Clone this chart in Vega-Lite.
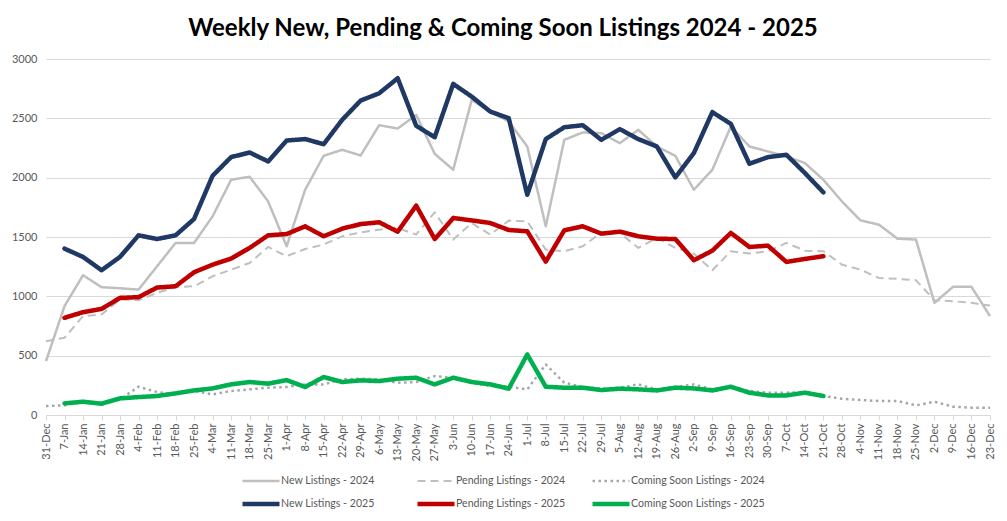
{
  "$schema": "https://vega.github.io/schema/vega-lite/v6.json",
  "width": 944,
  "height": 356,
  "autosize": {"type": "none"},
  "padding": {"left": 46, "top": 59, "right": 17, "bottom": 106},
  "background": "white",
  "title": {
    "text": "Weekly New, Pending & Coming Soon Listings 2024 - 2025",
    "fontSize": 24,
    "fontWeight": "bold",
    "font": "Lato",
    "color": "#000000",
    "anchor": "middle",
    "dx": -15,
    "offset": 12
  },
  "config": {"view": {"stroke": null}, "font": "Lato"},
  "data": {
    "values": [
      {"week": "31-Dec", "New Listings - 2024": 454, "Pending Listings - 2024": 622, "Coming Soon Listings - 2024": 76, "New Listings - 2025": null, "Pending Listings - 2025": null, "Coming Soon Listings - 2025": null},
      {"week": "7-Jan", "New Listings - 2024": 917, "Pending Listings - 2024": 651, "Coming Soon Listings - 2024": 81, "New Listings - 2025": 1402, "Pending Listings - 2025": 819, "Coming Soon Listings - 2025": 98},
      {"week": "14-Jan", "New Listings - 2024": 1178, "Pending Listings - 2024": 833, "Coming Soon Listings - 2024": 112, "New Listings - 2025": 1332, "Pending Listings - 2025": 866, "Coming Soon Listings - 2025": 112},
      {"week": "21-Jan", "New Listings - 2024": 1077, "Pending Listings - 2024": 847, "Coming Soon Listings - 2024": 95, "New Listings - 2025": 1220, "Pending Listings - 2025": 894, "Coming Soon Listings - 2025": 95},
      {"week": "28-Jan", "New Listings - 2024": 1068, "Pending Listings - 2024": 973, "Coming Soon Listings - 2024": 132, "New Listings - 2025": 1332, "Pending Listings - 2025": 987, "Coming Soon Listings - 2025": 140},
      {"week": "4-Feb", "New Listings - 2024": 1057, "Pending Listings - 2024": 967, "Coming Soon Listings - 2024": 238, "New Listings - 2025": 1514, "Pending Listings - 2025": 993, "Coming Soon Listings - 2025": 151},
      {"week": "11-Feb", "New Listings - 2024": 1253, "Pending Listings - 2024": 1029, "Coming Soon Listings - 2024": 193, "New Listings - 2025": 1483, "Pending Listings - 2025": 1074, "Coming Soon Listings - 2025": 160},
      {"week": "18-Feb", "New Listings - 2024": 1450, "Pending Listings - 2024": 1077, "Coming Soon Listings - 2024": 174, "New Listings - 2025": 1514, "Pending Listings - 2025": 1085, "Coming Soon Listings - 2025": 182},
      {"week": "25-Feb", "New Listings - 2024": 1450, "Pending Listings - 2024": 1085, "Coming Soon Listings - 2024": 202, "New Listings - 2025": 1652, "Pending Listings - 2025": 1203, "Coming Soon Listings - 2025": 207},
      {"week": "4-Mar", "New Listings - 2024": 1674, "Pending Listings - 2024": 1169, "Coming Soon Listings - 2024": 174, "New Listings - 2025": 2016, "Pending Listings - 2025": 1267, "Coming Soon Listings - 2025": 224},
      {"week": "11-Mar", "New Listings - 2024": 1982, "Pending Listings - 2024": 1225, "Coming Soon Listings - 2024": 202, "New Listings - 2025": 2173, "Pending Listings - 2025": 1318, "Coming Soon Listings - 2025": 258},
      {"week": "18-Mar", "New Listings - 2024": 2008, "Pending Listings - 2024": 1281, "Coming Soon Listings - 2024": 216, "New Listings - 2025": 2212, "Pending Listings - 2025": 1408, "Coming Soon Listings - 2025": 278},
      {"week": "25-Mar", "New Listings - 2024": 1800, "Pending Listings - 2024": 1416, "Coming Soon Listings - 2024": 230, "New Listings - 2025": 2137, "Pending Listings - 2025": 1514, "Coming Soon Listings - 2025": 264},
      {"week": "1-Apr", "New Listings - 2024": 1422, "Pending Listings - 2024": 1338, "Coming Soon Listings - 2024": 236, "New Listings - 2025": 2313, "Pending Listings - 2025": 1525, "Coming Soon Listings - 2025": 294},
      {"week": "8-Apr", "New Listings - 2024": 1898, "Pending Listings - 2024": 1399, "Coming Soon Listings - 2024": 258, "New Listings - 2025": 2325, "Pending Listings - 2025": 1590, "Coming Soon Listings - 2025": 236},
      {"week": "15-Apr", "New Listings - 2024": 2184, "Pending Listings - 2024": 1436, "Coming Soon Listings - 2024": 258, "New Listings - 2025": 2282, "Pending Listings - 2025": 1506, "Coming Soon Listings - 2025": 320},
      {"week": "22-Apr", "New Listings - 2024": 2235, "Pending Listings - 2024": 1506, "Coming Soon Listings - 2024": 300, "New Listings - 2025": 2487, "Pending Listings - 2025": 1570, "Coming Soon Listings - 2025": 278},
      {"week": "29-Apr", "New Listings - 2024": 2187, "Pending Listings - 2024": 1539, "Coming Soon Listings - 2024": 306, "New Listings - 2025": 2650, "Pending Listings - 2025": 1609, "Coming Soon Listings - 2025": 292},
      {"week": "6-May", "New Listings - 2024": 2442, "Pending Listings - 2024": 1562, "Coming Soon Listings - 2024": 300, "New Listings - 2025": 2711, "Pending Listings - 2025": 1624, "Coming Soon Listings - 2025": 286},
      {"week": "13-May", "New Listings - 2024": 2414, "Pending Listings - 2024": 1576, "Coming Soon Listings - 2024": 272, "New Listings - 2025": 2838, "Pending Listings - 2025": 1545, "Coming Soon Listings - 2025": 306},
      {"week": "20-May", "New Listings - 2024": 2529, "Pending Listings - 2024": 1520, "Coming Soon Listings - 2024": 278, "New Listings - 2025": 2437, "Pending Listings - 2025": 1764, "Coming Soon Listings - 2025": 314},
      {"week": "27-May", "New Listings - 2024": 2201, "Pending Listings - 2024": 1708, "Coming Soon Listings - 2024": 328, "New Listings - 2025": 2341, "Pending Listings - 2025": 1483, "Coming Soon Listings - 2025": 258},
      {"week": "3-Jun", "New Listings - 2024": 2067, "Pending Listings - 2024": 1478, "Coming Soon Listings - 2024": 314, "New Listings - 2025": 2790, "Pending Listings - 2025": 1660, "Coming Soon Listings - 2025": 314},
      {"week": "10-Jun", "New Listings - 2024": 2655, "Pending Listings - 2024": 1618, "Coming Soon Listings - 2024": 272, "New Listings - 2025": 2683, "Pending Listings - 2025": 1640, "Coming Soon Listings - 2025": 278},
      {"week": "17-Jun", "New Listings - 2024": 2557, "Pending Listings - 2024": 1520, "Coming Soon Listings - 2024": 244, "New Listings - 2025": 2557, "Pending Listings - 2025": 1618, "Coming Soon Listings - 2025": 258},
      {"week": "24-Jun", "New Listings - 2024": 2473, "Pending Listings - 2024": 1638, "Coming Soon Listings - 2024": 238, "New Listings - 2025": 2501, "Pending Listings - 2025": 1559, "Coming Soon Listings - 2025": 222},
      {"week": "1-Jul", "New Listings - 2024": 2263, "Pending Listings - 2024": 1632, "Coming Soon Listings - 2024": 216, "New Listings - 2025": 1856, "Pending Listings - 2025": 1548, "Coming Soon Listings - 2025": 510},
      {"week": "8-Jul", "New Listings - 2024": 1590, "Pending Listings - 2024": 1394, "Coming Soon Listings - 2024": 426, "New Listings - 2025": 2325, "Pending Listings - 2025": 1293, "Coming Soon Listings - 2025": 238},
      {"week": "15-Jul", "New Listings - 2024": 2319, "Pending Listings - 2024": 1380, "Coming Soon Listings - 2024": 272, "New Listings - 2025": 2425, "Pending Listings - 2025": 1556, "Coming Soon Listings - 2025": 230},
      {"week": "22-Jul", "New Listings - 2024": 2381, "Pending Listings - 2024": 1422, "Coming Soon Listings - 2024": 236, "New Listings - 2025": 2442, "Pending Listings - 2025": 1590, "Coming Soon Listings - 2025": 230},
      {"week": "29-Jul", "New Listings - 2024": 2375, "Pending Listings - 2024": 1539, "Coming Soon Listings - 2024": 222, "New Listings - 2025": 2319, "Pending Listings - 2025": 1528, "Coming Soon Listings - 2025": 210},
      {"week": "5-Aug", "New Listings - 2024": 2291, "Pending Listings - 2024": 1534, "Coming Soon Listings - 2024": 230, "New Listings - 2025": 2409, "Pending Listings - 2025": 1545, "Coming Soon Listings - 2025": 222},
      {"week": "12-Aug", "New Listings - 2024": 2403, "Pending Listings - 2024": 1408, "Coming Soon Listings - 2024": 258, "New Listings - 2025": 2325, "Pending Listings - 2025": 1506, "Coming Soon Listings - 2025": 216},
      {"week": "19-Aug", "New Listings - 2024": 2263, "Pending Listings - 2024": 1492, "Coming Soon Listings - 2024": 216, "New Listings - 2025": 2263, "Pending Listings - 2025": 1486, "Coming Soon Listings - 2025": 207},
      {"week": "26-Aug", "New Listings - 2024": 2184, "Pending Listings - 2024": 1408, "Coming Soon Listings - 2024": 236, "New Listings - 2025": 2002, "Pending Listings - 2025": 1483, "Coming Soon Listings - 2025": 230},
      {"week": "2-Sep", "New Listings - 2024": 1898, "Pending Listings - 2024": 1360, "Coming Soon Listings - 2024": 258, "New Listings - 2025": 2207, "Pending Listings - 2025": 1304, "Coming Soon Listings - 2025": 224},
      {"week": "9-Sep", "New Listings - 2024": 2067, "Pending Listings - 2024": 1220, "Coming Soon Listings - 2024": 216, "New Listings - 2025": 2552, "Pending Listings - 2025": 1385, "Coming Soon Listings - 2025": 207},
      {"week": "16-Sep", "New Listings - 2024": 2431, "Pending Listings - 2024": 1380, "Coming Soon Listings - 2024": 238, "New Listings - 2025": 2453, "Pending Listings - 2025": 1534, "Coming Soon Listings - 2025": 238},
      {"week": "23-Sep", "New Listings - 2024": 2263, "Pending Listings - 2024": 1360, "Coming Soon Listings - 2024": 202, "New Listings - 2025": 2117, "Pending Listings - 2025": 1416, "Coming Soon Listings - 2025": 188},
      {"week": "30-Sep", "New Listings - 2024": 2221, "Pending Listings - 2024": 1380, "Coming Soon Listings - 2024": 188, "New Listings - 2025": 2173, "Pending Listings - 2025": 1427, "Coming Soon Listings - 2025": 165},
      {"week": "7-Oct", "New Listings - 2024": 2179, "Pending Listings - 2024": 1450, "Coming Soon Listings - 2024": 188, "New Listings - 2025": 2193, "Pending Listings - 2025": 1290, "Coming Soon Listings - 2025": 165},
      {"week": "14-Oct", "New Listings - 2024": 2123, "Pending Listings - 2024": 1385, "Coming Soon Listings - 2024": 193, "New Listings - 2025": 2039, "Pending Listings - 2025": 1315, "Coming Soon Listings - 2025": 188},
      {"week": "21-Oct", "New Listings - 2024": 1982, "Pending Listings - 2024": 1380, "Coming Soon Listings - 2024": 160, "New Listings - 2025": 1876, "Pending Listings - 2025": 1338, "Coming Soon Listings - 2025": 160},
      {"week": "28-Oct", "New Listings - 2024": 1800, "Pending Listings - 2024": 1267, "Coming Soon Listings - 2024": 137, "New Listings - 2025": null, "Pending Listings - 2025": null, "Coming Soon Listings - 2025": null},
      {"week": "4-Nov", "New Listings - 2024": 1640, "Pending Listings - 2024": 1225, "Coming Soon Listings - 2024": 126, "New Listings - 2025": null, "Pending Listings - 2025": null, "Coming Soon Listings - 2025": null},
      {"week": "11-Nov", "New Listings - 2024": 1604, "Pending Listings - 2024": 1155, "Coming Soon Listings - 2024": 118, "New Listings - 2025": null, "Pending Listings - 2025": null, "Coming Soon Listings - 2025": null},
      {"week": "18-Nov", "New Listings - 2024": 1486, "Pending Listings - 2024": 1147, "Coming Soon Listings - 2024": 118, "New Listings - 2025": null, "Pending Listings - 2025": null, "Coming Soon Listings - 2025": null},
      {"week": "25-Nov", "New Listings - 2024": 1478, "Pending Listings - 2024": 1136, "Coming Soon Listings - 2024": 81, "New Listings - 2025": null, "Pending Listings - 2025": null, "Coming Soon Listings - 2025": null},
      {"week": "2-Dec", "New Listings - 2024": 945, "Pending Listings - 2024": 967, "Coming Soon Listings - 2024": 112, "New Listings - 2025": null, "Pending Listings - 2025": null, "Coming Soon Listings - 2025": null},
      {"week": "9-Dec", "New Listings - 2024": 1080, "Pending Listings - 2024": 959, "Coming Soon Listings - 2024": 70, "New Listings - 2025": null, "Pending Listings - 2025": null, "Coming Soon Listings - 2025": null},
      {"week": "16-Dec", "New Listings - 2024": 1080, "Pending Listings - 2024": 945, "Coming Soon Listings - 2024": 62, "New Listings - 2025": null, "Pending Listings - 2025": null, "Coming Soon Listings - 2025": null},
      {"week": "23-Dec", "New Listings - 2024": 833, "Pending Listings - 2024": 922, "Coming Soon Listings - 2024": 62, "New Listings - 2025": null, "Pending Listings - 2025": null, "Coming Soon Listings - 2025": null}
    ]
  },
  "transform": [
    {"fold": ["New Listings - 2024", "Pending Listings - 2024", "Coming Soon Listings - 2024", "New Listings - 2025", "Pending Listings - 2025", "Coming Soon Listings - 2025"], "as": ["series", "value"]},
    {"filter": "isValid(datum.value)"}
  ],
  "encoding": {
    "x": {
      "field": "week",
      "type": "ordinal",
      "sort": null,
      "scale": {
        "domain": ["31-Dec","7-Jan","14-Jan","21-Jan","28-Jan","4-Feb","11-Feb","18-Feb","25-Feb","4-Mar","11-Mar","18-Mar","25-Mar","1-Apr","8-Apr","15-Apr","22-Apr","29-Apr","6-May","13-May","20-May","27-May","3-Jun","10-Jun","17-Jun","24-Jun","1-Jul","8-Jul","15-Jul","22-Jul","29-Jul","5-Aug","12-Aug","19-Aug","26-Aug","2-Sep","9-Sep","16-Sep","23-Sep","30-Sep","7-Oct","14-Oct","21-Oct","28-Oct","4-Nov","11-Nov","18-Nov","25-Nov","2-Dec","9-Dec","16-Dec","23-Dec"],
        "padding": 0
      },
      "axis": {
        "title": null,
        "labelAngle": 270,
        "labelFontSize": 11,
        "labelColor": "#595959",
        "domainColor": "#d9d9d9",
        "tickColor": "#d9d9d9",
        "tickSize": 5,
        "labelPadding": 3,
        "grid": false
      }
    },
    "y": {
      "field": "value",
      "type": "quantitative",
      "scale": {"domain": [0, 3000]},
      "axis": {
        "title": null,
        "values": [0, 500, 1000, 1500, 2000, 2500, 3000],
        "format": "d",
        "domain": false,
        "ticks": false,
        "gridColor": "#d9d9d9",
        "labelPadding": 9,
        "labelFontSize": 11,
        "labelColor": "#595959"
      }
    },
    "color": {
      "field": "series",
      "type": "ordinal",
      "scale": {
        "type": "ordinal",
        "domain": ["New Listings - 2024", "Pending Listings - 2024", "Coming Soon Listings - 2024", "New Listings - 2025", "Pending Listings - 2025", "Coming Soon Listings - 2025"],
        "range": ["#bfbfbf", "#bfbfbf", "#a6a6a6", "#1f3864", "#c00000", "#00b050"]
      },
      "legend": {"title": null, "orient": "none", "direction": "horizontal", "legendX": 194, "legendY": 415, "columns": 3, "gridAlign": "all", "columnPadding": 0, "rowPadding": 9, "clipHeight": 14, "symbolType": "stroke", "symbolSize": 1369, "labelFontSize": 10.6, "labelColor": "#595959", "labelOffset": -1}
    },
    "strokeDash": {
      "field": "series",
      "type": "ordinal",
      "scale": {
        "type": "ordinal",
        "domain": ["New Listings - 2024", "Pending Listings - 2024", "Coming Soon Listings - 2024", "New Listings - 2025", "Pending Listings - 2025", "Coming Soon Listings - 2025"],
        "range": [[1, 0], [8, 5], [2.5, 3.5], [1, 0], [1, 0], [1, 0]]
      },
      "legend": {"title": null, "orient": "none", "direction": "horizontal", "legendX": 194, "legendY": 415, "columns": 3, "gridAlign": "all", "columnPadding": 0, "rowPadding": 9, "clipHeight": 14, "symbolType": "stroke", "symbolSize": 1369, "labelFontSize": 10.6, "labelColor": "#595959", "labelOffset": -1}
    },
    "strokeWidth": {
      "field": "series",
      "type": "ordinal",
      "scale": {
        "type": "ordinal",
        "domain": ["New Listings - 2024", "Pending Listings - 2024", "Coming Soon Listings - 2024", "New Listings - 2025", "Pending Listings - 2025", "Coming Soon Listings - 2025"],
        "range": [2.5, 2, 2.5, 4.5, 4.5, 4.5]
      },
      "legend": {"title": null, "orient": "none", "direction": "horizontal", "legendX": 194, "legendY": 415, "columns": 3, "gridAlign": "all", "columnPadding": 0, "rowPadding": 9, "clipHeight": 14, "symbolType": "stroke", "symbolSize": 1369, "labelFontSize": 10.6, "labelColor": "#595959", "labelOffset": -1}
    }
  },
  "layer": [
    {
      "transform": [{"filter": "indexof(datum.series, '2024') >= 0"}],
      "mark": {"type": "line", "strokeCap": "butt", "strokeJoin": "round"}
    },
    {
      "transform": [{"filter": "indexof(datum.series, '2025') >= 0"}],
      "mark": {"type": "line", "strokeCap": "round", "strokeJoin": "round"}
    }
  ]
}
